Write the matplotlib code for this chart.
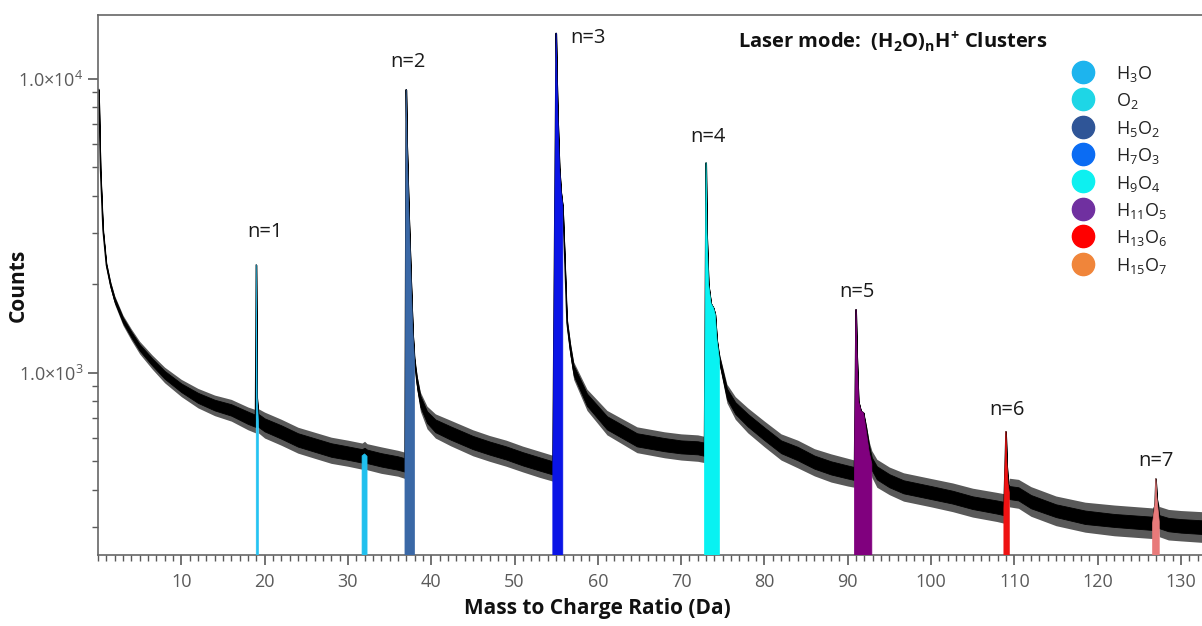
import numpy as np
import matplotlib
matplotlib.use("Agg")
import matplotlib.pyplot as plt
from matplotlib.lines import Line2D
from matplotlib.ticker import FixedLocator, MultipleLocator, NullFormatter

plt.rcParams['font.family'] = ['Open Sans', 'DejaVu Sans']
plt.rcParams['mathtext.fontset'] = 'custom'
plt.rcParams['mathtext.rm'] = 'Open Sans'
plt.rcParams['mathtext.it'] = 'Open Sans:italic'
plt.rcParams['mathtext.bf'] = 'Open Sans:bold'

# ---------------- data ----------------
mz = [0.1, 0.3, 0.6, 1.0, 1.5, 2.0, 3.0, 4.0, 5.0, 6.5, 8.0, 10.0, 12.0, 14.0, 16.0, 18.0, 18.9,
      19.0, 19.1, 19.25, 20.0, 22.0, 24.0, 26.0, 28.0, 30.0, 31.7, 32.0, 32.3, 34.0, 36.0, 36.85,
      37.0, 37.1, 37.3, 37.6, 37.8, 38.0, 38.3, 38.7, 39.5, 40.5, 42.3, 45.0, 47.0, 49.0, 51.0, 53.0, 54.6,
      55.0, 55.1, 55.2, 55.4, 55.6, 55.8, 56.0, 56.3, 56.7, 57.1, 58.7, 61.1, 64.7, 68.0, 70.0, 72.0, 72.8,
      73.0, 73.1, 73.3, 73.6, 73.9, 74.1, 74.3, 74.6, 75.5, 76.5, 78.0, 80.0, 82.0, 84.0, 86.0, 88.0, 90.0, 90.8,
      91.0, 91.1, 91.3, 91.6, 91.9, 92.2, 92.6, 92.9, 93.5, 95.0, 96.7, 100.0, 102.6, 105.0, 107.9, 108.75,
      109.0, 109.1, 109.25, 109.4, 110.5, 112.0, 115.0, 118.5, 122.0, 126.6,
      126.9, 127.0, 127.1, 127.4, 128.5, 130.0, 132.5]
# centre of the trace
counts = [9200, 4900, 3060, 2330, 1990, 1770, 1510, 1350, 1220, 1090, 985, 889, 822, 778, 748, 703, 687,
          2330, 822, 690, 666, 630, 592, 569, 547, 534, 522, 530, 520, 506, 494, 486,
          9190, 6000, 3670, 2000, 1370, 1100, 925, 800, 708, 660, 625, 580, 555, 534, 510, 490, 475,
          14300, 10000, 7500, 5000, 4100, 3670, 2600, 1480, 1200, 1020, 810, 676, 592, 570, 560, 556, 550,
          5180, 3000, 2000, 1720, 1660, 1580, 1300, 1110, 850, 760, 690, 620, 560, 530, 497, 475, 460, 455,
          1640, 1200, 800, 740, 731, 640, 534, 490, 457, 430, 410, 392, 378, 362, 350, 346,
          631, 500, 420, 392, 388, 365, 340, 323, 315, 308,
          360, 436, 380, 312, 305, 302, 299]
# dense part of the noise band
counts_lo = [9200, 4850, 3020, 2300, 1960, 1740, 1480, 1320, 1190, 1060, 955, 860, 790, 745, 715, 670, 655,
             2330, 822, 655, 632, 597, 561, 539, 518, 506, 495, 488, 493, 480, 468, 461,
             9190, 6000, 3670, 2000, 1370, 1080, 890, 765, 675, 628, 593, 550, 527, 507, 484, 465, 451,
             14300, 10000, 7500, 5000, 4100, 3670, 2600, 1440, 1160, 980, 772, 642, 562, 541, 532, 528, 522,
             5180, 3000, 2000, 1720, 1660, 1580, 1300, 1080, 815, 725, 657, 590, 533, 504, 472, 451, 437, 432,
             1640, 1200, 800, 740, 731, 620, 510, 466, 434, 408, 389, 372, 359, 344, 332, 328,
             631, 500, 420, 372, 368, 346, 323, 306, 299, 292,
             360, 436, 380, 296, 289, 286, 283]
counts_hi = [9200, 4950, 3100, 2360, 2020, 1800, 1540, 1380, 1250, 1120, 1015, 920, 855, 810, 782, 738, 720,
             2330, 822, 725, 700, 663, 623, 599, 576, 562, 550, 556, 548, 533, 520, 512,
             9190, 6000, 3670, 2000, 1370, 1120, 960, 835, 740, 694, 658, 610, 584, 562, 537, 516, 500,
             14300, 10000, 7500, 5000, 4100, 3670, 2600, 1520, 1240, 1060, 850, 712, 623, 600, 589, 585, 579,
             5180, 3000, 2000, 1720, 1660, 1580, 1300, 1140, 885, 795, 725, 652, 589, 560, 523, 500, 484, 478,
             1640, 1200, 800, 740, 731, 660, 560, 515, 481, 452, 431, 412, 397, 380, 368, 364,
             631, 500, 420, 412, 408, 384, 357, 340, 331, 324,
             360, 436, 380, 328, 321, 318, 315]
# extremes of the noise spikes
counts_min = [9200, 4800, 2980, 2270, 1930, 1710, 1450, 1290, 1160, 1030, 925, 830, 760, 715, 685, 640, 625,
              2330, 822, 625, 600, 567, 533, 512, 492, 481, 470, 475, 468, 455, 445, 437,
              9190, 6000, 3670, 2000, 1370, 1080, 870, 740, 645, 600, 565, 522, 500, 481, 460, 441, 428,
              14300, 10000, 7500, 5000, 4100, 3670, 2600, 1420, 1130, 950, 745, 615, 535, 514, 505, 500, 495,
              5180, 3000, 2000, 1720, 1660, 1580, 1300, 1060, 790, 695, 625, 560, 505, 475, 446, 425, 412, 408,
              1640, 1200, 800, 740, 731, 610, 490, 441, 408, 385, 366, 350, 337, 323, 312, 308,
              631, 500, 420, 350, 346, 325, 302, 287, 279, 273,
              360, 436, 380, 277, 270, 268, 265]
counts_max = [9200, 5000, 3140, 2390, 2050, 1830, 1570, 1410, 1280, 1150, 1045, 950, 885, 840, 812, 765, 750,
              2330, 822, 755, 735, 695, 653, 628, 604, 590, 577, 585, 574, 560, 545, 537,
              9190, 6000, 3670, 2000, 1370, 1120, 980, 860, 770, 725, 690, 640, 612, 590, 563, 541, 524,
              14300, 10000, 7500, 5000, 4100, 3670, 2600, 1540, 1270, 1090, 880, 745, 655, 630, 620, 615, 608,
              5180, 3000, 2000, 1720, 1660, 1580, 1300, 1160, 915, 830, 760, 685, 620, 590, 552, 530, 512, 505,
              1640, 1200, 800, 740, 731, 670, 580, 543, 508, 478, 457, 437, 422, 405, 392, 388,
              631, 500, 420, 438, 434, 410, 381, 363, 355, 347,
              360, 436, 380, 351, 343, 340, 337]

species = [r"H$_3$O", r"O$_2$", r"H$_5$O$_2$", r"H$_7$O$_3$", r"H$_9$O$_4$",
           r"H$_{11}$O$_5$", r"H$_{13}$O$_6$", r"H$_{15}$O$_7$"]
range_start = [19.0, 31.7, 36.85, 54.6, 72.8, 90.8, 108.75, 126.6]
range_end = [19.25, 32.3, 38.0, 55.8, 74.6, 92.9, 109.4, 127.4]

cluster_labels = ["n=1", "n=2", "n=3", "n=4", "n=5", "n=6", "n=7"]

# ---------------- styling ----------------
legend_colors = ["#1DB4EE", "#1ED6E6", "#2F5597", "#0B6CF3", "#0DF0F0", "#7030A0", "#FF0000", "#F0853A"]
fill_colors = ["#25C3F2", "#20C0EE", "#3A68A6", "#0A14E6", "#08F2F2", "#80007E", "#EE1212", "#E87A7A"]
# label centres in figure pixels
label_px = [(265, 232), (408, 62), (588, 38), (708, 137), (857, 292), (1007, 410), (1156, 461)]

W, H = 1202, 626
fig = plt.figure(figsize=(W / 100, H / 100), dpi=100)
ax = fig.add_axes([98 / W, (H - 555) / H, (W - 98) / W, (555 - 15) / H])

mz_a = np.array(mz)
c_a = np.array(counts, dtype=float)
ymin, ymax = 240, 16500

ax.set_yscale('log')
ax.set_xlim(0, (W - 98) / 8.33)
ax.set_ylim(ymin, ymax)

ax.fill_between(mz_a, counts_min, counts_max, color='black', alpha=0.65, lw=0, zorder=2)
ax.fill_between(mz_a, counts_lo, counts_hi, color='black', lw=0.6, zorder=2)
ax.plot(mz_a, c_a, color='black', lw=1.0, zorder=2)

for s, e, col in zip(range_start, range_end, fill_colors):
    m = (mz_a >= s - 1e-9) & (mz_a <= e + 1e-9)
    ax.fill_between(mz_a, 1, c_a, where=m, color=col, lw=0.5, zorder=3)

for txt, (px, py) in zip(cluster_labels, label_px):
    fig.text(px / W, 1 - py / H, txt, ha='center', va='center', fontsize=14.5, color='#1a1a1a')

fig.text(893 / W, 1 - 42 / H, r"Laser mode:  (H$_\mathbf{2}$O)$_\mathbf{n}$H$^\mathbf{+}$ Clusters",
         ha='center', va='center', fontsize=14.5, fontweight='bold', color='#111111')

handles = [Line2D([], [], ls='none', marker='o', markersize=16, markerfacecolor=c, markeredgecolor=c)
           for c in legend_colors]
leg = fig.legend(handles, species, loc='upper left', bbox_to_anchor=(1071 / W, 1 - 64 / H),
                 frameon=False, fontsize=13, handlelength=1.3, handleheight=1.0, handletextpad=1.2,
                 labelspacing=0.41, borderpad=0, borderaxespad=0)
for t in leg.get_texts():
    t.set_color('#222222')

# axes styling
grey = '#5a5a5a'
for sp in ['left', 'bottom', 'top']:
    ax.spines[sp].set_color('#666666')
    ax.spines[sp].set_linewidth(1.2)
ax.spines['right'].set_visible(False)

ax.xaxis.set_major_locator(FixedLocator(list(range(10, 131, 10))))
ax.xaxis.set_minor_locator(MultipleLocator(1))
ax.yaxis.set_major_locator(FixedLocator([1e3, 1e4]))
ax.set_yticklabels([r"1.0×10$^{3}$", r"1.0×10$^{4}$"])
ax.yaxis.set_minor_locator(FixedLocator([300, 400, 500, 600, 700, 800, 900,
                                         2000, 3000, 4000, 5000, 6000, 7000, 8000, 9000]))
ax.yaxis.set_minor_formatter(NullFormatter())
ax.tick_params(axis='both', which='major', direction='out', color=grey, labelcolor=grey,
               labelsize=13, length=7, width=1.2)
ax.tick_params(axis='both', which='minor', direction='out', color=grey, length=4, width=1.0)
ax.tick_params(axis='x', which='major', pad=6)

ax.set_xlabel("Mass to Charge Ratio (Da)", fontsize=15, fontweight='bold', color='#111111')
ax.xaxis.set_label_coords((597 - 98) / (W - 98), (555 - 598) / 540)
ax.set_ylabel("Counts", fontsize=15, fontweight='bold', color='#111111')
ax.yaxis.set_label_coords((29 - 98) / (W - 98), 0.5)

fig.savefig("out.png", dpi=100)
